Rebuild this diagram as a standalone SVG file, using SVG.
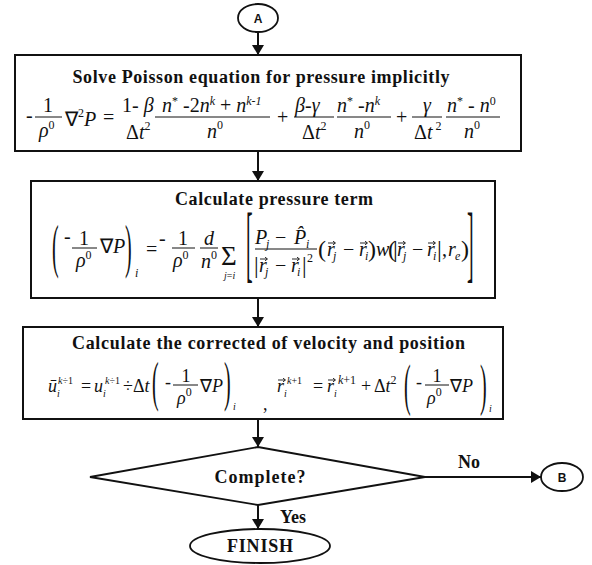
<svg xmlns="http://www.w3.org/2000/svg" xmlns:xlink="http://www.w3.org/1999/xlink" width="592" height="565" viewBox="0 0 592 565">
<style>
.box{fill:#fff;stroke:#111;stroke-width:2}
.shape{fill:#fff;stroke:#111;stroke-width:1.8}
.con{stroke:#111;stroke-width:2;fill:none}
.bar{stroke:#111;stroke-width:1}
.vec{stroke:#111;stroke-width:0.9;fill:none}
.t{font-family:'Liberation Serif','Times New Roman',serif;font-weight:bold;font-size:18px;fill:#111}
.c{font-family:'Liberation Sans',Arial,sans-serif;font-weight:bold;font-size:12px;fill:#111}
.m{font-family:'Liberation Serif','Times New Roman',serif;font-size:20px;font-style:italic;fill:#111}
.m3{font-family:'Liberation Serif','Times New Roman',serif;font-size:18px;font-style:italic;fill:#111}
.u{font-style:normal}
.s{font-size:12px}
.ss{font-size:10px}
</style>
<defs>
<marker id="ah" markerUnits="userSpaceOnUse" markerWidth="10" markerHeight="12" refX="10" refY="6" orient="auto">
<path d="M0,0 L10,6 L0,12 z" fill="#111"/>
</marker>
<path id="va" class="vec" d="M0,0 H7 M5,-1.8 L7.5,0 L5,1.8"/>
</defs>
<rect width="592" height="565" fill="#fff"/>

<g id="connectors">
<line class="con" x1="258" y1="33" x2="258" y2="55" marker-end="url(#ah)"/>
<line class="con" x1="258" y1="151" x2="258" y2="181" marker-end="url(#ah)"/>
<line class="con" x1="258" y1="298" x2="258" y2="327" marker-end="url(#ah)"/>
<line class="con" x1="258" y1="419" x2="258" y2="447" marker-end="url(#ah)"/>
<line class="con" x1="258" y1="505" x2="258" y2="529" marker-end="url(#ah)"/>
<line class="con" x1="425" y1="477" x2="541" y2="477" marker-end="url(#ah)"/>
<text class="t" x="458" y="468">No</text>
<text class="t" x="280" y="523">Yes</text>
</g>

<g id="nodeA">
<ellipse class="shape" cx="258" cy="18" rx="20" ry="14"/>
<text class="c" x="258" y="23" text-anchor="middle">A</text>
</g>

<g id="box1">
<rect class="box" x="15" y="55" width="506" height="96"/>
<text class="t" x="261" y="83" text-anchor="middle" textLength="377">Solve Poisson equation for pressure implicitly</text>
<g class="m">
<text class="u" x="26" y="122">-</text>
<text class="u" x="48" y="112" text-anchor="middle">1</text>
<line class="bar" x1="35" y1="117" x2="62" y2="117"/>
<text x="39" y="137">ρ<tspan class="s u" dy="-8">0</tspan></text>
<text class="u" x="65" y="126">∇<tspan class="s" dy="-9">2</tspan><tspan font-style="italic" dy="9">P</tspan></text>
<text class="u" x="103" y="124">=</text>
<text x="122" y="112"><tspan class="u">1- </tspan>β</text>
<text class="u" x="126" y="139">Δ<tspan font-style="italic">t</tspan><tspan class="s" dy="-9">2</tspan></text>
<text x="162" y="112">n<tspan class="s u" dy="-7">*</tspan><tspan class="u" dy="7"> -2</tspan>n<tspan class="s" dy="-7">k</tspan><tspan class="u" dy="7"> + </tspan>n<tspan class="s" dy="-7">k-1</tspan></text>
<line class="bar" x1="155" y1="117" x2="270" y2="117"/>
<text x="207" y="138">n<tspan class="s u" dy="-9">0</tspan></text>
<text class="u" x="277" y="124">+</text>
<text x="295" y="112">β<tspan class="u">-</tspan>γ</text>
<line class="bar" x1="294" y1="117" x2="334" y2="117"/>
<text class="u" x="302" y="139">Δ<tspan font-style="italic">t</tspan><tspan class="s" dy="-9">2</tspan></text>
<text x="337" y="112">n<tspan class="s u" dy="-7">*</tspan><tspan class="u" dy="7"> -</tspan>n<tspan class="s" dy="-7">k</tspan></text>
<line class="bar" x1="337" y1="117" x2="391" y2="117"/>
<text x="354" y="138">n<tspan class="s u" dy="-9">0</tspan></text>
<text class="u" x="396" y="124">+</text>
<text x="427" y="112" text-anchor="middle">γ</text>
<line class="bar" x1="412" y1="117" x2="442" y2="117"/>
<text class="u" x="414" y="139">Δ<tspan font-style="italic">t</tspan><tspan class="s" dy="-9"> 2</tspan></text>
<text x="447" y="112">n<tspan class="s u" dy="-7">*</tspan><tspan class="u" dy="7"> - </tspan>n<tspan class="s u" dy="-7">0</tspan></text>
<line class="bar" x1="446" y1="117" x2="500" y2="117"/>
<text x="464" y="138">n<tspan class="s u" dy="-9">0</tspan></text>
</g>
</g>

<g id="box2">
<rect class="box" x="31" y="181" width="464" height="117"/>
<text class="t" x="274" y="205" text-anchor="middle" textLength="198">Calculate pressure term</text>
<g class="m">
<text class="u" transform="translate(52,266) scale(1,3)">(</text>
<text class="u" x="64" y="243">-</text>
<text class="u" x="84" y="245" text-anchor="middle">1</text>
<line class="bar" x1="72" y1="248" x2="97" y2="248"/>
<text x="76" y="267">ρ<tspan class="s u" dy="-8">0</tspan></text>
<text class="u" x="100" y="253">∇<tspan font-style="italic">P</tspan></text>
<text class="u" transform="translate(125,266) scale(1,3)">)</text>
<text class="s" x="135" y="277">i</text>
<text class="u" x="146" y="256">=</text>
<text class="u" x="159" y="245">-</text>
<text class="u" x="183" y="245" text-anchor="middle">1</text>
<line class="bar" x1="172" y1="248" x2="195" y2="248"/>
<text x="173" y="267">ρ<tspan class="s u" dy="-8">0</tspan></text>
<text x="209" y="245" text-anchor="middle">d</text>
<line class="bar" x1="200" y1="248" x2="218" y2="248"/>
<text x="201" y="268">n<tspan class="s u" dy="-9">0</tspan></text>
<text class="u" x="221" y="265" font-size="27">Σ</text>
<text class="ss" x="224" y="279">j<tspan class="u">=</tspan>i</text>
<text class="u" transform="translate(246,272) scale(1,4.2)">[</text>
<text x="255" y="244">P</text><text class="s" x="266" y="248">j</text>
<text class="u" x="275" y="244">−</text>
<text x="294" y="244">P̂</text><text class="s" x="306" y="248">i</text>
<line class="bar" x1="255" y1="249" x2="317" y2="249"/>
<text class="u" x="254" y="273" font-size="23">|</text>
<text x="259" y="272">r</text><text class="s" x="265" y="276">j</text>
<text class="u" x="275" y="272">−</text>
<text x="291" y="272">r</text><text class="s" x="297" y="276">i</text>
<text class="u" x="302" y="273" font-size="23">|</text>
<text class="s u" x="307" y="262">2</text>
<use xlink:href="#va" x="260" y="259"/>
<use xlink:href="#va" x="292" y="259"/>
<text class="u" x="318" y="257" font-size="24">(</text>
<text x="327" y="256">r</text><text class="s" x="333" y="260">j</text>
<text class="u" x="343" y="256">−</text>
<text x="359" y="256">r</text><text class="s" x="365" y="260">i</text>
<text class="u" x="368" y="257" font-size="24">)</text>
<text x="376" y="256">w</text>
<text class="u" x="388" y="257" font-size="24">(</text>
<text class="u" x="393" y="257" font-size="24">|</text>
<text x="397" y="256">r</text><text class="s" x="403" y="260">j</text>
<text class="u" x="412" y="256">−</text>
<text x="427" y="256">r</text><text class="s" x="433" y="260">i</text>
<text class="u" x="437" y="257" font-size="24">|</text>
<text class="u" x="442" y="256">,</text>
<text x="448" y="256">r</text><text class="s" x="455" y="260">e</text>
<text class="u" x="461" y="257" font-size="24">)</text>
<use xlink:href="#va" x="328" y="243"/>
<use xlink:href="#va" x="360" y="243"/>
<use xlink:href="#va" x="398" y="243"/>
<use xlink:href="#va" x="428" y="243"/>
<text class="u" transform="translate(467,272) scale(1,4.2)">]</text>
</g>
</g>

<g id="box3">
<rect class="box" x="23" y="327" width="480" height="92"/>
<text class="t" x="268.5" y="349" text-anchor="middle" textLength="393">Calculate the corrected of velocity and position</text>
<g class="m3">
<text x="48" y="392">ū</text>
<text class="ss" x="57" y="397">i</text>
<text class="ss" x="58" y="384">k<tspan class="u">÷1</tspan></text>
<text class="u" x="81" y="392">=</text>
<text x="94" y="392">u</text>
<text class="ss" x="103" y="397">i</text>
<text class="ss" x="105" y="384">k<tspan class="u">÷1</tspan></text>
<text class="u" x="123" y="392">÷</text>
<text class="u" x="133" y="392">Δ<tspan font-style="italic">t</tspan></text>
<text class="u" font-size="20" transform="translate(152,400) scale(1,2.7)">(</text>
<text class="u" x="165" y="388">-</text>
<text class="u" x="186" y="382" text-anchor="middle">1</text>
<line class="bar" x1="173" y1="385" x2="198" y2="385"/>
<text x="177" y="404">ρ<tspan class="s u" dy="-8">0</tspan></text>
<text class="u" x="200" y="392">∇<tspan font-style="italic">P</tspan></text>
<text class="u" font-size="20" transform="translate(224,400) scale(1,2.7)">)</text>
<text class="ss" x="233" y="410">i</text>
<text class="u" x="263" y="410">,</text>
<text x="277" y="392">r</text>
<use xlink:href="#va" x="278" y="380"/>
<text class="ss" x="284" y="397">i</text>
<text class="ss" x="287" y="384">k<tspan class="u">+1</tspan></text>
<text class="u" x="313" y="392">=</text>
<text x="327" y="392">r</text>
<use xlink:href="#va" x="328" y="380"/>
<text class="ss" x="334" y="397">i</text>
<text class="s" x="338" y="384">k<tspan class="u">+1</tspan></text>
<text class="u" x="361" y="392">+</text>
<text class="u" x="374" y="392">Δ<tspan font-style="italic">t</tspan><tspan class="s" dy="-8">2</tspan></text>
<text class="u" font-size="20" transform="translate(404,404) scale(1,2.9)">(</text>
<text class="u" x="416" y="388">-</text>
<text class="u" x="437" y="382" text-anchor="middle">1</text>
<line class="bar" x1="425" y1="385" x2="449" y2="385"/>
<text x="427" y="404">ρ<tspan class="s u" dy="-8">0</tspan></text>
<text class="u" x="450" y="392">∇<tspan font-style="italic">P</tspan></text>
<text class="u" font-size="20" transform="translate(480,404) scale(1,2.9)">)</text>
<text class="ss" x="489" y="412">i</text>
</g>
</g>

<g id="decision">
<polygon class="shape" points="90,477 258,447 425,477 258,505"/>
<text class="t" x="260" y="483" text-anchor="middle" textLength="91">Complete?</text>
</g>

<g id="nodeB">
<ellipse class="shape" cx="562" cy="477" rx="21" ry="14"/>
<text class="c" x="562" y="482" text-anchor="middle">B</text>
</g>

<g id="finish">
<ellipse class="shape" cx="260" cy="546" rx="70" ry="17"/>
<text class="t" x="260" y="552" text-anchor="middle" textLength="66">FINISH</text>
</g>
</svg>
